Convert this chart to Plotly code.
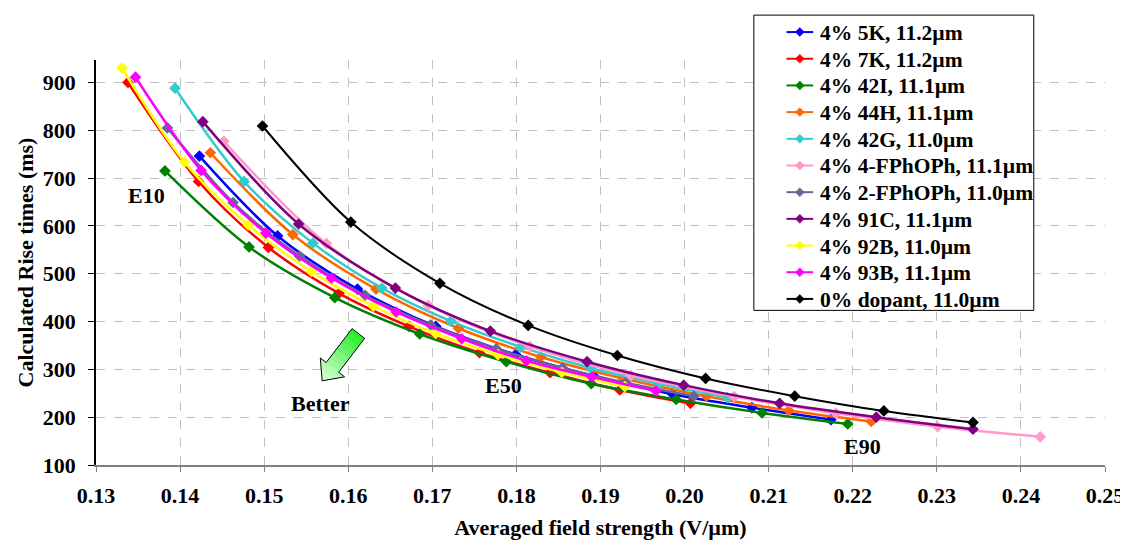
import plotly.graph_objects as go
import numpy as np

# ---------------- data ----------------
names = ["4% 5K, 11.2µm", "4% 7K, 11.2µm", "4% 42I, 11.1µm", "4% 44H, 11.1µm",
         "4% 42G, 11.0µm", "4% 4-FPhOPh, 11.1µm", "4% 2-FPhOPh, 11.0µm",
         "4% 91C, 11.1µm", "4% 92B, 11.0µm", "4% 93B, 11.1µm", "0% dopant, 11.0µm"]

x_5K = [0.1423, 0.1516, 0.1611, 0.1704, 0.1799, 0.1892, 0.1986, 0.2080, 0.2174]
y_5K = [746, 579, 468, 390, 331, 286, 248, 220, 195]
x_7K = [0.1338, 0.1422, 0.1505, 0.1589, 0.1672, 0.1756, 0.1840, 0.1923, 0.2007]
y_7K = [900, 693, 555, 459, 390, 335, 293, 257, 229]
x_42I = [0.1382, 0.1482, 0.1584, 0.1685, 0.1788, 0.1889, 0.1990, 0.2092, 0.2194]
y_42I = [715, 556, 450, 374, 316, 270, 237, 209, 186]
x_44H = [0.1436, 0.1534, 0.1633, 0.1731, 0.1829, 0.1927, 0.2026, 0.2124, 0.2222]
y_44H = [753, 582, 468, 386, 326, 281, 244, 214, 191]
x_42G = [0.1394, 0.1476, 0.1558, 0.1640, 0.1722, 0.1805, 0.1888, 0.1969, 0.2051]
y_42G = [888, 693, 564, 470, 401, 347, 303, 270, 241]
x_4F = [0.1452, 0.1574, 0.1695, 0.1816, 0.1936, 0.2059, 0.2180, 0.2301, 0.2423]
y_4F = [777, 563, 434, 348, 287, 243, 208, 180, 159]
x_2F = [0.1385, 0.1463, 0.1542, 0.1620, 0.1698, 0.1776, 0.1855, 0.1930, 0.2011]
y_2F = [805, 649, 537, 455, 393, 343, 303, 272, 244]
x_91C = [0.1427, 0.1541, 0.1656, 0.1769, 0.1884, 0.1999, 0.2113, 0.2228, 0.2343]
y_91C = [818, 604, 470, 380, 316, 267, 229, 200, 175]
x_92B = [0.1331, 0.1405, 0.1481, 0.1556, 0.1630, 0.1704, 0.1778, 0.1854, 0.1929]
y_92B = [930, 734, 602, 505, 432, 375, 331, 294, 264]
x_93B = [0.1347, 0.1425, 0.1502, 0.1580, 0.1657, 0.1735, 0.1812, 0.1890, 0.1966]
y_93B = [911, 716, 585, 491, 420, 364, 318, 284, 255]
x_0 = [0.1498, 0.1603, 0.1709, 0.1814, 0.1920, 0.2025, 0.2131, 0.2237, 0.2343]
y_0 = [809, 608, 480, 392, 329, 281, 244, 213, 189]

xs = [x_5K, x_7K, x_42I, x_44H, x_42G, x_4F, x_2F, x_91C, x_92B, x_93B, x_0]
ys = [y_5K, y_7K, y_42I, y_44H, y_42G, y_4F, y_2F, y_91C, y_92B, y_93B, y_0]
colors = ["#0000FF", "#FF0000", "#008000", "#FF6600", "#33CCCC", "#FF99CC",
          "#666699", "#800080", "#FFFF00", "#FF00FF", "#000000"]

FONT = "Liberation Serif"
FS = 22

fig = go.Figure()
for n, x, y, c in zip(names, xs, ys, colors):
    fig.add_trace(go.Scatter(
        x=x, y=y, name=n, mode="lines+markers", showlegend=False,
        line=dict(color=c, width=2.5 if c != "#000000" else 2, shape="spline", smoothing=0.9),
        marker=dict(symbol="diamond", size=9, color=c),
    ))

# ---------------- layout ----------------
W, H = 1128, 540
ML, MR, MT, MB = 88, 20, 52, 82
XR = [0.13, 0.25]
YR = [100, 947]
pw, ph = W - ML - MR, H - MT - MB


def px2data(px, py):
    return (XR[0] + (px - ML) / pw * (XR[1] - XR[0]),
            YR[0] + (MT + ph - py) / ph * (YR[1] - YR[0]))


def data2px(x, y):
    return (ML + (x - XR[0]) / (XR[1] - XR[0]) * pw,
            MT + ph - (y - YR[0]) / (YR[1] - YR[0]) * ph)


def px2paper(px, py):
    return ((px - ML) / pw, (MT + ph - py) / ph)


# gradient block arrow ("Better")
tail = np.array(data2px(0.1612, 375))
tip = np.array(data2px(0.1569, 276))
d = tip - tail
L = np.linalg.norm(d)
u = d / L
nrm = np.array([-u[1], u[0]])
body_hw, head_hw, head_len = 8.0, 15.5, 17.0
th = (L - head_len) / L


def hw(t, head):
    if not head:
        return body_hw
    return head_hw * (1 - t) / (1 - th)


def path_from(pts, conv=px2data):
    s = ""
    for i, (a, b) in enumerate(pts):
        xd, yd = conv(a, b)
        s += ("M" if i == 0 else "L") + f"{xd},{yd} "
    return s + "Z"


c0 = np.array([0x22, 0xEE, 0x22])
c1 = np.array([0xDD, 0xFF, 0xDD])
ts = list(np.linspace(0, th, 9)) + list(np.linspace(th, 1, 5))[1:]
segs = [(a, b, False) for a, b in zip(ts[:8], ts[1:9])] + \
       [(a, b, True) for a, b in zip(ts[8:-1], ts[9:])]
segs[8] = (th, segs[8][1], True)
shapes = []
for (t0, t1, head) in segs:
    p0 = tail + u * L * t0
    p1 = tail + u * L * (t1 + (0.002 if t1 < 1 else 0))
    w0, w1 = hw(t0, head), hw(min(t1, 1), head)
    pts = [p0 + nrm * w0, p1 + nrm * w1, p1 - nrm * w1, p0 - nrm * w0]
    col = c0 + (c1 - c0) * ((t0 + t1) / 2)
    shapes.append(dict(type="path", path=path_from(pts), xref="x", yref="y",
                       fillcolor=f"rgb({int(col[0])},{int(col[1])},{int(col[2])})",
                       line=dict(width=0), layer="above"))
hb = tail + u * L * th
outline = [tail + nrm * body_hw, hb + nrm * body_hw, hb + nrm * head_hw, tip,
           hb - nrm * head_hw, hb - nrm * body_hw, tail - nrm * body_hw]
shapes.append(dict(type="path", path=path_from(outline), xref="x", yref="y",
                   fillcolor="rgba(0,0,0,0)", line=dict(color="black", width=1), layer="above"))

# legend box (drawn manually)
lb_x0, lb_x1, lb_top, lb_bot = 753, 1036, 7, 303
bx0, by1 = px2paper(lb_x0, lb_top)
bx1, by0 = px2paper(lb_x1, lb_bot)
shapes.append(dict(type="rect", xref="paper", yref="paper", x0=bx0, x1=bx1, y0=by0, y1=by1,
                   fillcolor="white", line=dict(color="black", width=1), layer="above"))

annotations = []
row0, row_step = 24.0, 26.75
for i, (n, c) in enumerate(zip(names, colors)):
    ry = row0 + row_step * i
    lx0, ly = px2paper(786, ry)
    lx1, _ = px2paper(813, ry)
    shapes.append(dict(type="line", xref="paper", yref="paper", x0=lx0, x1=lx1, y0=ly, y1=ly,
                       line=dict(color=c, width=2), layer="above"))
    cx, cy = 799.5, ry
    r = 4.5
    dpts = [(cx, cy - r), (cx + r, cy), (cx, cy + r), (cx - r, cy)]
    shapes.append(dict(type="path", xref="paper", yref="paper",
                       path=path_from(dpts, px2paper), fillcolor=c,
                       line=dict(color=c, width=0.5), layer="above"))
    tx, ty = px2paper(818, ry + 1)
    annotations.append(dict(x=tx, y=ty, xref="paper", yref="paper", text=n, showarrow=False,
                            xanchor="left", yanchor="middle",
                            font=dict(family=FONT, size=21.5, color="black", weight="bold")))

ann_font = dict(family=FONT, size=FS, color="black", weight="bold")
annotations += [
    dict(x=0.1360, y=663, text="E10", showarrow=False, font=ann_font),
    dict(x=0.1785, y=267, text="E50", showarrow=False, font=ann_font),
    dict(x=0.2212, y=138, text="E90", showarrow=False, font=ann_font),
    dict(x=0.1567, y=229, text="Better", showarrow=False, font=ann_font),
]

fig.update_layout(
    width=W, height=H,
    margin=dict(l=ML, r=MR, t=MT, b=MB),
    paper_bgcolor="white", plot_bgcolor="white",
    font=dict(family=FONT, size=FS, color="black"),
    showlegend=False,
    shapes=shapes,
    annotations=annotations,
)
fig.update_xaxes(
    range=XR, dtick=0.01, tick0=0.13, tickformat=".2f",
    showgrid=True, gridcolor="#C0C0C0", griddash="dash", gridwidth=1,
    showline=True, linecolor="#808080", linewidth=1.5,
    ticks="outside", ticklen=5, tickcolor="#808080",
    tickfont=dict(family=FONT, size=FS, color="black", weight="bold"),
    ticklabelstandoff=5,
    title=dict(text="Averaged field strength (V/µm)", standoff=12,
               font=dict(family=FONT, size=FS, color="black", weight="bold")),
    zeroline=False,
)
fig.update_yaxes(
    range=YR, dtick=100, tick0=100,
    showgrid=True, gridcolor="#C0C0C0", griddash="dash", gridwidth=1,
    showline=True, linecolor="black", linewidth=1.5,
    ticks="outside", ticklen=6, tickcolor="black",
    tickfont=dict(family=FONT, size=FS, color="black", weight="bold"),
    ticklabelstandoff=8,
    title=dict(text="Calculated Rise times (ms)", standoff=3,
               font=dict(family=FONT, size=FS, color="black", weight="bold")),
    zeroline=False,
)

fig.write_html("out.html")
